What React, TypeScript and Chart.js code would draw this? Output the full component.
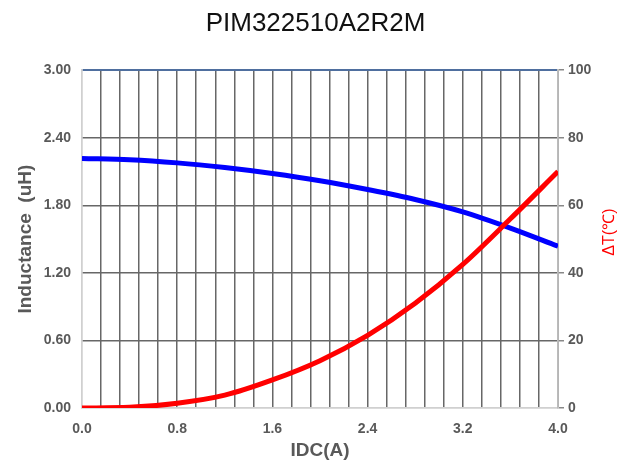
import React, { useEffect, useRef } from "react";
import { Chart, registerables } from "chart.js";

Chart.register(...registerables);

const chartTitle = "PIM322510A2R2M";
const currents = [0, 0.4, 0.8, 1.2, 1.6, 2.0, 2.4, 2.8, 3.2, 3.6, 4.0];
const inductance = [2.216, 2.205, 2.177, 2.135, 2.082, 2.018, 1.94, 1.852, 1.742, 1.598, 1.437];
const tempRise = [0, 0.2, 1.4, 3.8, 8.3, 14.0, 21.5, 31.0, 42.5, 56.0, 70.0];
const xTitle = "IDC(A)";
const yTitle = "Inductance  (uH)";
const y1Title = "ΔT(℃)";

const FONT = "'Liberation Sans', Arial, sans-serif";
const LABEL = "#595959";
const GRID = "#676767";

const rightTitlePlugin = {
  id: "rightTitle",
  afterDraw(chart: any) {
    const s = chart.scales.y1;
    const ca = chart.chartArea;
    const ctx = chart.ctx;
    ctx.save();
    ctx.translate(s.right - 21, (ca.top + ca.bottom) / 2 - 7);
    ctx.rotate(-Math.PI / 2);
    ctx.font = `16px ${FONT}`;
    ctx.fillStyle = "#ff0000";
    ctx.textAlign = "center";
    ctx.textBaseline = "middle";
    ctx.fillText(y1Title, 0, 0);
    ctx.restore();
  },
};

export default function App() {
  const ref = useRef<HTMLCanvasElement>(null);
  useEffect(() => {
    if (!ref.current) return;
    Chart.defaults.font.family = FONT;
    const near = (v: number, step: number) => Math.abs(v / step - Math.round(v / step)) < 1e-6;
    const chart = new Chart(ref.current, {
      type: "line",
      data: {
        datasets: [
          {
            data: currents.map((x, i) => ({ x, y: inductance[i] })),
            borderColor: "#0000ff",
            borderWidth: 5,
            pointRadius: 0,
            cubicInterpolationMode: "monotone",
            yAxisID: "y",
            order: 2,
          },
          {
            data: currents.map((x, i) => ({ x, y: tempRise[i] })),
            borderColor: "#ff0000",
            borderWidth: 5,
            pointRadius: 0,
            cubicInterpolationMode: "monotone",
            yAxisID: "y1",
            order: 1,
          },
        ],
      },
      options: {
        animation: false,
        responsive: true,
        maintainAspectRatio: false,
        layout: { padding: 0 },
        plugins: {
          legend: { display: false },
          tooltip: { enabled: false },
          title: {
            display: true,
            text: chartTitle,
            color: "#111",
            font: { size: 26, weight: "normal" },
            padding: { top: 8, bottom: 31 },
          },
        },
        scales: {
          x: {
            type: "linear",
            min: 0,
            max: 4,
            afterFit: (s: any) => { s.height = 61; },
            ticks: {
              stepSize: 0.16,
              autoSkip: false,
              maxRotation: 0,
              padding: 13,
              color: LABEL,
              font: { size: 14, weight: "bold" },
              callback: (v: any) => (near(Number(v), 0.8) ? Number(v).toFixed(1) : ""),
            },
            grid: {
              drawTicks: false,
              lineWidth: 1.5,
              color: (c: any) => (c.tick && Math.abs(c.tick.value) < 1e-6 ? "#d0d0d0" : GRID),
            },
            border: { color: "#d0d0d0", width: 1.5 },
            title: {
              display: true,
              text: xTitle,
              color: LABEL,
              font: { size: 19, weight: "bold" },
              padding: { top: 0, bottom: 7 },
            },
          },
          y: {
            position: "left",
            min: 0,
            max: 3,
            afterFit: (s: any) => { s.width = 82; },
            ticks: {
              stepSize: 0.6,
              padding: 11,
              color: LABEL,
              font: { size: 14, weight: "bold" },
              callback: (v: any) => Number(v).toFixed(2),
            },
            grid: {
              drawTicks: false,
              lineWidth: (c: any) => (c.tick && Math.abs(c.tick.value - 3) < 1e-6 ? 2 : 1.5),
              color: (c: any) => {
                const v = c.tick ? c.tick.value : -1;
                if (Math.abs(v - 3) < 1e-6) return "#4f6f9f";
                if (Math.abs(v) < 1e-6) return "#d0d0d0";
                return GRID;
              },
            },
            border: { color: "#d0d0d0", width: 1.5 },
            title: {
              display: true,
              text: yTitle,
              color: LABEL,
              font: { size: 19, weight: "bold" },
              padding: { top: 14, bottom: 0 },
            },
          },
          y1: {
            position: "right",
            min: 0,
            max: 100,
            afterFit: (s: any) => { s.width = 73; },
            ticks: {
              stepSize: 20,
              padding: 4,
              color: LABEL,
              font: { size: 14, weight: "bold" },
            },
            grid: {
              drawOnChartArea: false,
              drawTicks: true,
              tickLength: 6,
              color: "#888",
              lineWidth: 1.5,
            },
            border: { color: "#bbbbbb", width: 1.5 },
          },
        },
      },
      plugins: [rightTitlePlugin],
    } as any);
    return () => chart.destroy();
  }, []);
  return (
    <div style={{ position: "fixed", left: 0, top: 0, width: 631, height: 469, background: "#fff" }}>
      <canvas ref={ref} style={{ display: "block" }} />
    </div>
  );
}
